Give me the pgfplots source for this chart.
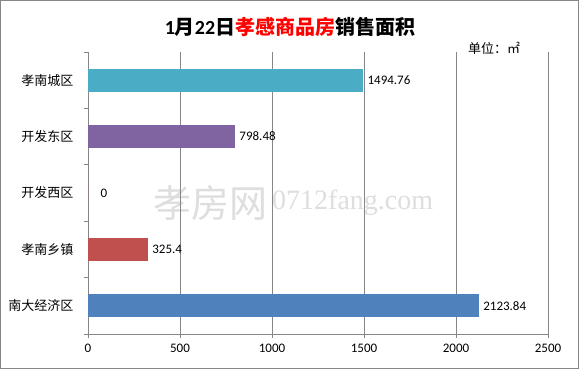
\documentclass[border=0pt]{standalone}
\usepackage{pgfplots}
\pgfplotsset{compat=1.18}
\usepackage{fontspec}
\setmainfont{Carlito}
\newfontfamily\cjk{Noto Sans CJK SC}
\newfontfamily\wmserif{Liberation Serif}
\definecolor{cA}{HTML}{4BACC6}
\definecolor{cB}{HTML}{8064A2}
\definecolor{cC}{HTML}{C0504D}
\definecolor{cD}{HTML}{4F81BD}
\definecolor{axgray}{HTML}{868686}
\begin{document}
\begin{tikzpicture}
\useasboundingbox (0,0) rectangle (579pt,369pt);
\fill[white] (0,0) rectangle (579pt,369pt);
\draw[axgray, line width=1pt] (0.5pt,0.5pt) rectangle (578.5pt,368.5pt);
% watermark
\node[text=black!13, font=\cjk\fontsize{38}{38}\selectfont, inner sep=0pt] at (210pt,166pt) {孝房网};
\node[text=black!13, font=\wmserif\fontsize{28}{28}\selectfont, inner sep=0pt, anchor=west] at (272pt,166pt) {0712fang.com};
% title
\node[font=\bfseries\fontsize{20}{22}\selectfont, inner sep=0pt] at (290pt,342pt) {1{\cjk 月}22{\cjk 日}\textcolor{red}{\cjk 孝感商品房}{\cjk 销售面积}};
\node[font=\cjk\fontsize{13}{14}\selectfont, inner sep=0pt] at (494pt,321pt) {单位：㎡};
\begin{axis}[
  at={(88pt,35pt)}, anchor=south west,
  scale only axis, width=460pt, height=282pt,
  xmin=0, xmax=2500, ymin=-0.5, ymax=4.5,
  xtick={0,500,...,2500},
  ytick={-0.5,0.5,1.5,2.5,3.5,4.5},
  yticklabels={},
  extra y ticks={0,1,2,3,4},
  extra y tick labels={南大经济区,孝南乡镇,开发西区,开发东区,孝南城区},
  extra y tick style={major tick length=0pt, yticklabel style={font=\cjk\fontsize{13}{14}\selectfont, xshift=-11pt}},
  xticklabel style={font=\fontsize{13}{14}\selectfont, yshift=-3pt},
  /pgf/number format/assume math mode=true,
  /pgf/number format/1000 sep={},
  tick align=outside,
  major tick length=4pt,
  tick style={draw=axgray, line width=0.8pt},
  xmajorgrids, grid style={axgray, line width=0.8pt},
  separate axis lines,
  axis x line*=bottom, axis y line*=left,
  axis line style={axgray, -, line width=0.8pt},
  clip=false,
  point meta=explicit symbolic,
  nodes near coords,
  every node near coord/.append style={anchor=west, font=\fontsize{13}{14}\selectfont, xshift=1pt, text=black},
]
\addplot[xbar, bar shift=0pt, bar width=23pt, fill=cA, draw=none] coordinates {(1494.76,4) [1494.76]};
\addplot[xbar, bar shift=0pt, bar width=23pt, fill=cB, draw=none] coordinates {(798.48,3) [798.48]};
\addplot[xbar, bar shift=0pt, bar width=23pt, fill=cC, draw=none, every node near coord/.append style={xshift=8pt}] coordinates {(0,2) [0]};
\addplot[xbar, bar shift=0pt, bar width=23pt, fill=cC, draw=none] coordinates {(325.4,1) [325.4]};
\addplot[xbar, bar shift=0pt, bar width=23pt, fill=cD, draw=none] coordinates {(2123.84,0) [2123.84]};
\end{axis}
\end{tikzpicture}
\end{document}
